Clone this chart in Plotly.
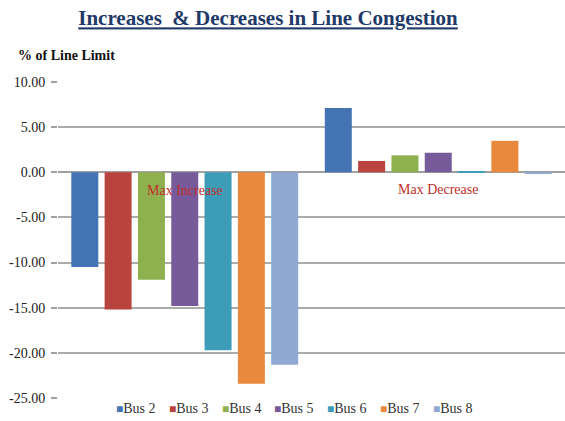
import plotly.graph_objects as go

# Line congestion change per bus, % of line limit
groups = ["Max Increase", "Max Decrease"]
buses = ["Bus 2", "Bus 3", "Bus 4", "Bus 5", "Bus 6", "Bus 7", "Bus 8"]
max_increase = [-10.5, -15.2, -11.9, -14.8, -19.7, -23.4, -21.3]
max_decrease = [7.1, 1.25, 1.87, 2.16, 0.1, 3.48, -0.15]
y_ticks = [10, 5, 0, -5, -10, -15, -20, -25]
y_tick_labels = [f"{v:.2f}" for v in y_ticks]  # plain hyphen for negatives

colors = ["#4574B4", "#B9433F", "#8FB04F", "#765A99", "#3D9DB8", "#E8893E", "#8FA9D2"]

W, H = 565, 421
L, R, T, B = 58, 0, 81, 22
plot_w = W - L - R
plot_h = H - T - B

serif = "Liberation Serif, Times New Roman, serif"

fig = go.Figure()
for i, bus in enumerate(buses):
    fig.add_trace(go.Bar(
        name=bus,
        x=groups,
        y=[max_increase[i], max_decrease[i]],
        marker=dict(color=colors[i], line=dict(width=0)),
        showlegend=False,
    ))

annotations = []
# in-plot group captions
for g, yv in zip(groups, [-2.0, -1.9]):
    annotations.append(dict(
        x=g, y=yv, xref="x", yref="y", text=g, showarrow=False,
        font=dict(family=serif, size=14, color="#C0302B"),
    ))

# y-axis caption
annotations.append(dict(
    x=(16 - L) / plot_w, y=(H - B - 55) / plot_h, xref="paper", yref="paper",
    xanchor="left", yanchor="middle", showarrow=False,
    text="<b>% of Line Limit</b>",
    font=dict(family=serif, size=14, color="#111111"),
))

# legend row along the bottom
for i, bus in enumerate(buses):
    px = 114 + i * 52.8
    annotations.append(dict(
        x=(px - L) / plot_w, y=-9 / plot_h, xref="paper", yref="paper",
        xanchor="left", yanchor="middle", showarrow=False,
        text=f"<span style='color:{colors[i]};font-size:12px'>■</span>{bus}",
        font=dict(family=serif, size=14, color="#333333"),
    ))

fig.update_layout(
    width=W, height=H,
    margin=dict(l=L, r=R, t=T, b=B),
    paper_bgcolor="white", plot_bgcolor="white",
    barmode="group", bargap=0.08, bargroupgap=0.19,
    title=dict(
        text="<b><u>Increases  & Decreases in Line Congestion</u></b>",
        x=268 / W, xanchor="center", xref="container",
        y=1 - 18 / H, yanchor="middle", yref="container",
        font=dict(family=serif, size=21, color="#1F3A68"),
    ),
    xaxis=dict(showticklabels=False, showgrid=False, zeroline=False,
               showline=False, ticks=""),
    yaxis=dict(
        range=[-25.1, 10.1], tickvals=y_ticks, ticktext=y_tick_labels,
        showgrid=True, gridcolor="#ABABAB", gridwidth=1.5,
        zeroline=True, zerolinecolor="#A0A0A0", zerolinewidth=1.5,
        ticks="outside", ticklen=6, tickcolor="#A0A0A0", tickwidth=1.5,
        ticklabelstandoff=3,
        tickfont=dict(family=serif, size=14, color="#222222"),
        showline=False,
    ),
    annotations=annotations,
)

fig.write_html("out.html")
